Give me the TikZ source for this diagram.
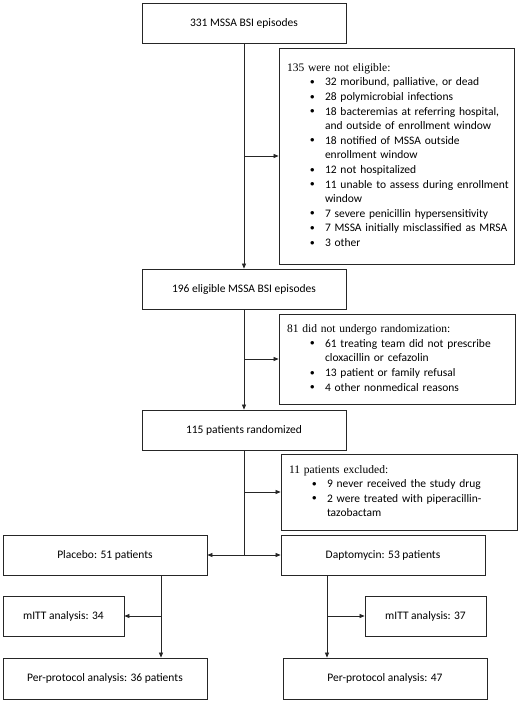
\documentclass[tikz,border=0pt]{standalone}
\usepackage{fontspec}
\setmainfont{Carlito}
\newfontfamily\tms{Liberation Serif}
\usetikzlibrary{arrows.meta}
\newcommand\lst[1]{{\fontsize{11.5}{14.6}\selectfont\renewcommand\arraystretch{1}%
\begin{tabular}{@{\hspace{23pt}}p{15pt}@{}l@{}}#1\end{tabular}}}
\newcommand\hdr[1]{\multicolumn{2}{@{}l@{}}{\tms #1}}
\newcommand\bul{\raisebox{0.25ex}{\scalebox{0.75}{$\bullet$}}}
\begin{document}
\begin{tikzpicture}[x=1pt,y=-1pt,
  box/.style={draw=black!85, line width=0.8pt, inner sep=0pt, font=\fontsize{11.5}{13}\selectfont, minimum height=40pt, minimum width=204pt},
  lbox/.style={box, inner xsep=8pt, align=left},
  conn/.style={line width=0.7pt, draw=black!85},
  arr/.style={conn, -{Triangle[length=5pt,width=4pt]}}]
\useasboundingbox (0,0) rectangle (520,701);
\node[box] (b1) at (244,23) {331 MSSA BSI episodes};
\node[lbox, minimum width=235pt, minimum height=216pt, text width=219pt] (b2) at (396.5,156) {\lst{%
\hdr{135 were not eligible:}\\
\bul & 32 moribund, palliative, or dead\\
\bul & 28 polymicrobial infections\\
\bul & 18 bacteremias at referring hospital,\\
 & and outside of enrollment window\\
\bul & 18 notified of MSSA outside\\
 & enrollment window\\
\bul & 12 not hospitalized\\
\bul & 11 unable to assess during enrollment\\
 & window\\
\bul & 7 severe penicillin hypersensitivity\\
\bul & 7 MSSA initially misclassified as MRSA\\
\bul & 3 other\\}};
\node[box] (b3) at (244,289) {196 eligible MSSA BSI episodes};
\node[lbox, minimum width=236pt, minimum height=90pt, text width=220pt] (b4) at (397,359) {\lst{%
\hdr{81 did not undergo randomization:}\\
\bul & 61 treating team did not prescribe\\
 & cloxacillin or cefazolin\\
\bul & 13 patient or family refusal\\
\bul & 4 other nonmedical reasons\\}};
\node[box] (b5) at (244,430) {115 patients randomized};
\node[lbox, minimum width=236pt, minimum height=76pt, text width=220pt] (b6) at (399,492) {\lst{%
\hdr{11 patients excluded:}\\
\bul & 9 never received the study drug\\
\bul & 2 were treated with piperacillin-\\
 & tazobactam\\}};
\node[box] (pl) at (105,555) {Placebo: 51 patients};
\node[box] (dp) at (383,555) {Daptomycin: 53 patients};
\node[box, minimum width=121pt] (m1) at (63.5,616) {mITT analysis: 34};
\node[box, minimum width=121pt] (m2) at (425.5,616) {mITT analysis: 37};
\node[box, minimum height=41pt] (p1) at (105,678.5) {Per-protocol analysis: 36 patients};
\node[box, minimum height=41pt] (p2) at (385,678.5) {Per-protocol analysis: 47};
% connectors
\draw[arr] (b1.south) -- (b3.north);
\coordinate (j1) at (b1.south |- b2.west);
\draw[arr] (j1) -- (b2.west);
\draw[arr] (b3.south) -- (b5.north);
\coordinate (j2) at (b3.south |- b4.west);
\draw[arr] (j2) -- (b4.west);
\coordinate (s) at (b5.south |- pl.east);
\draw[conn] (b5.south) -- (s);
\coordinate (j3) at (b5.south |- b6.west);
\draw[arr] (j3) -- (b6.west);
\draw[arr] (s) -- (pl.east);
\draw[arr] (s) -- (dp.west);
\coordinate (pls) at ([xshift=56pt]pl.south);
\draw[arr] (pls) -- (pls |- p1.north);
\coordinate (k1) at (pls |- m1.east);
\draw[arr] (k1) -- (m1.east);
\coordinate (dps) at ([xshift=-56pt]dp.south);
\draw[arr] (dps) -- (dps |- p2.north);
\coordinate (k2) at (dps |- m2.west);
\draw[arr] (k2) -- (m2.west);
\end{tikzpicture}
\end{document}
